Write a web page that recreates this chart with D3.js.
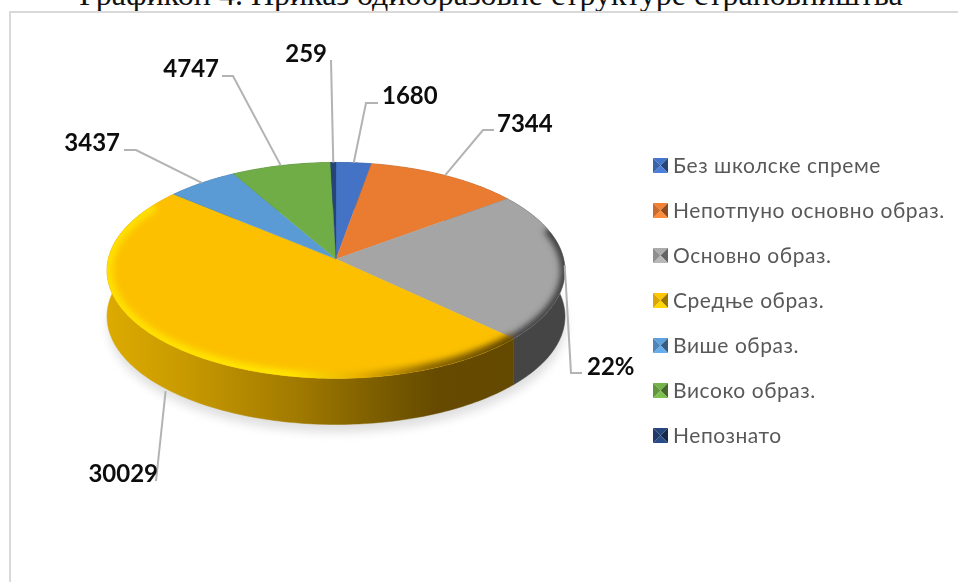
<!DOCTYPE html>
<html><head><meta charset="utf-8">
<script src="https://cdn.jsdelivr.net/npm/d3@7"></script>
<style>html,body{margin:0;padding:0;background:#fff;overflow:hidden}svg{display:block}</style>
</head><body><div id="chart"></div>
<script>
const categories = ["Без школске спреме","Непотпуно основно образ.","Основно образ.","Средње образ.","Више образ.","Високо образ.","Непознато"];
const values = [1680,7344,13700,30029,3437,4747,259];
const valueLabels = ["1680","7344","22%","30029","3437","4747","259"];
const colors = ["#4472c4","#ea7c31","#a5a5a5","#fcc000","#5b9bd5","#70ad47","#264478"];
const darks = ["#2b4a80","#9c5220","#6d6d6d","#a67c00","#3b6690","#4a7230","#172a4c"];
const titleText = "Графикон 4. Приказ одиобразовне структуре страновништва";

const W=958,H=582,cx=336,cy=259,Rx=227.7,Ry=106.8,k=0.106,depth=46;
// label layout: elbow point and text anchor, in page space
const labelLayout = [
 {ex:366,ey:103,lx:378,ly:103,tx:382,ty:95,a:"start"},
 {ex:483,ey:130,lx:494,ly:130,tx:497,ty:123,a:"start"},
 {ex:571,ey:373,lx:582,ly:373,tx:587,ty:366,a:"start"},
 {ex:156,ey:481,lx:156,ly:481,tx:158,ty:473,a:"end"},
 {ex:136,ey:150,lx:124,ly:150,tx:120,ty:142,a:"end"},
 {ex:233,ey:76,lx:222,ly:76,tx:219,ty:68,a:"end"},
 {ex:331,ey:60,lx:331,ly:60,tx:327,ty:53,a:"end"}
];
const project=t=>{const w=1+k*Math.cos(t);return [cx+Rx*Math.sin(t)/w,cy-Ry*Math.cos(t)/w];};
const samples=(a,b)=>{const n=Math.max(2,Math.ceil(Math.abs(b-a)/0.02));return d3.range(n+1).map(i=>a+(b-a)*i/n);};
const line=d3.line();
const slices=d3.pie().sort(null).startAngle(0).endAngle(2*Math.PI).value(d=>d)(values);
const svg=d3.select("#chart").append("svg").attr("width",W).attr("height",H)
  .style("font-family","Lato,'Open Sans',sans-serif");
const defs=svg.append("defs");
const blur=(id,s)=>defs.append("filter").attr("id",id).attr("x","-20%").attr("y","-20%").attr("width","140%").attr("height","140%")
  .append("feGaussianBlur").attr("stdDeviation",s);
blur("b1",5);blur("b2",3);
defs.append("filter").attr("id","soft").attr("x","-5%").attr("y","-20%").attr("width","110%").attr("height","140%")
  .append("feGaussianBlur").attr("stdDeviation",0.4);
const grad=(id,stops)=>{const g=defs.append("linearGradient").attr("id",id).attr("gradientUnits","userSpaceOnUse")
  .attr("x1",107).attr("x2",565).attr("y1",0).attr("y2",0);
  stops.forEach(([o,c])=>g.append("stop").attr("offset",o).attr("stop-color",c));};
grad("sideY",[[0,"#dcaa00"],[0.15,"#cb9c00"],[0.42,"#a07900"],[0.6,"#7a5c00"],[0.72,"#664a00"],[1,"#624800"]]);
grad("rimY",[[0,"#ffe000"],[0.4,"#ffe600"],[0.55,"#e8b000"],[0.7,"#8a6600"],[0.88,"#604600"],[1,"#604600"]]);

// title and frame
svg.append("text").attr("x",491).attr("y",5).attr("text-anchor","middle")
  .style("font-family","'Liberation Serif',serif").style("font-size","32px").attr("fill","#111").text(titleText);
svg.append("path").attr("d",line([[W,12],[10,12],[10,H]])).attr("fill","none").attr("stroke","#d9d9d9").attr("stroke-width",2);

const outline=line(samples(0,2*Math.PI).map(project))+"Z";
// shadow
svg.append("path").attr("d",outline).attr("transform",`translate(1,${depth+8})`).attr("fill","#e0e0e0").attr("filter","url(#b1)");

const g=svg.append("g");
const sideFill=i=>i===3?"url(#sideY)":(i===2?"#454545":darks[i]);
g.selectAll("path.side").data(slices).join("path").attr("class","side")
  .attr("d",d=>{const top=samples(d.startAngle,d.endAngle).map(project);
    const bot=top.slice().reverse().map(([x,y])=>[x,y+depth]);return line(top.concat(bot))+"Z";})
  .attr("fill",(d,i)=>sideFill(i)).attr("stroke",(d,i)=>sideFill(i)).attr("stroke-width",0.5);
g.selectAll("path.top").data(slices).join("path").attr("class","top")
  .attr("d",d=>line([[cx,cy],...samples(d.startAngle,d.endAngle).map(project)])+"Z")
  .attr("fill",(d,i)=>colors[i]).attr("stroke",(d,i)=>colors[i]).attr("stroke-width",0.3);
// bevel along the rim, clipped to the top face
defs.append("clipPath").attr("id","face").append("path").attr("d",outline);
const rim=g.append("g").attr("clip-path","url(#face)").append("g").attr("filter","url(#b2)");
const yEnd=slices[3].endAngle, gStart=slices[2].startAngle;
rim.append("path").attr("d",line(samples(slices[3].startAngle,yEnd-0.14).map(project))).attr("fill","none")
  .attr("stroke","url(#rimY)").attr("stroke-width",12);
rim.append("path").attr("d",line(samples(gStart+0.35,slices[2].endAngle).map(project))).attr("fill","none")
  .attr("stroke","#3a3a3a").attr("stroke-width",9);

// leaders
const anchor=(d,i)=>{const m=(d.startAngle+d.endAngle)/2;const [x,y]=project(m);
  return (i===3)?[x-5,y+depth]:[x,y];};
svg.selectAll("path.leader").data(slices).join("path").attr("class","leader")
  .attr("d",(d,i)=>{const L=labelLayout[i];return line([anchor(d,i),[L.ex,L.ey],[L.lx,L.ly]]);})
  .attr("fill","none").attr("stroke","#b3b3b3").attr("stroke-width",2);
svg.selectAll("text.val").data(valueLabels).join("text").attr("class","val")
  .attr("x",(d,i)=>labelLayout[i].tx).attr("y",(d,i)=>labelLayout[i].ty).attr("dy","0.36em")
  .attr("text-anchor",(d,i)=>labelLayout[i].a).attr("font-weight",700).attr("font-size",24)
  .attr("fill","#0d0d0d").attr("filter","url(#soft)").text(d=>d);

// legend
const y=d3.scalePoint().domain(categories).range([165,435]);
const lg=svg.selectAll("g.lg").data(categories).join("g").attr("class","lg").attr("transform",d=>`translate(653,${y(d)-7})`);
const s=15,c=7.5;
lg.each(function(d,i){const n=d3.select(this);
  const col=d3.color(colors[i]);
  [[[0,0],[s,0],[c,c],col.brighter(0.1)],[[s,0],[s,s],[c,c],col.darker(1.4)],[[s,s],[0,s],[c,c],col.brighter(0.3)],[[0,s],[0,0],[c,c],col.darker(0.4)]]
  .forEach(t=>n.append("path").attr("d",line(t.slice(0,3))+"Z").attr("fill",t[3]+""));
});
lg.append("text").attr("x",20).attr("y",7.5).attr("dy","0.36em").attr("font-size",21).attr("letter-spacing",0.55).attr("fill","#595959")
  .attr("filter","url(#soft)").text(d=>d);
</script></body></html>
